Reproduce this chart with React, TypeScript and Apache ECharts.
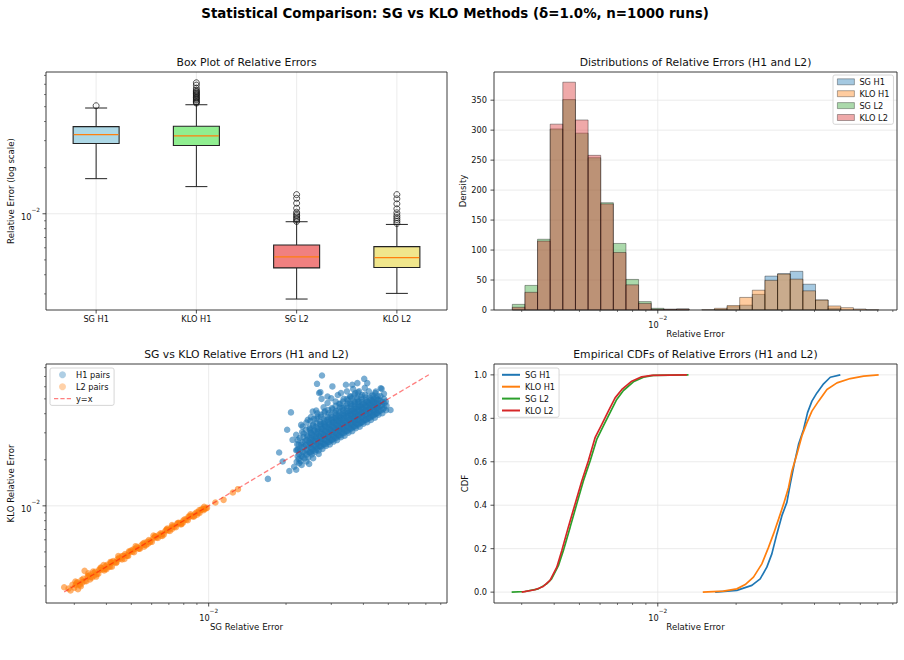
import React, { useEffect, useRef } from 'react';
import * as echarts from 'echarts';

const FONT = 'DejaVu Sans';
const TEXT = '#111111';
const TICK = '#222222';
const GRID_LINE = '#e6e6e6';
const SERIES_COLORS = ['#1f77b4', '#ff7f0e', '#2ca02c', '#d62728'];

// ---------- Box plot of relative errors ----------
const BOX_LABELS = ['SG H1', 'KLO H1', 'SG L2', 'KLO L2'];
// [lower whisker, Q1, median, Q3, upper whisker]
const BOX_STATS = [
  [0.01695, 0.02873, 0.03287, 0.03706, 0.04901],
  [0.01504, 0.02789, 0.03224, 0.03728, 0.05148],
  [0.002777, 0.004433, 0.005227, 0.006253, 0.008873],
  [0.003023, 0.00446, 0.00518, 0.006105, 0.00852],
];
const BOX_OUTLIERS = [
  [0.0507],
  [0.0716, 0.0691, 0.0661, 0.0641, 0.0630, 0.0622, 0.0611, 0.0604, 0.0595, 0.0586, 0.0575, 0.0569, 0.056, 0.0552, 0.054, 0.0535, 0.0528],
  [0.01334, 0.01263, 0.01172, 0.01087, 0.01024, 0.00997, 0.00975, 0.00953, 0.00932, 0.00912, 0.00891],
  [0.01334, 0.01252, 0.01161, 0.01078, 0.01015, 0.00975, 0.00946, 0.00918, 0.00891, 0.00865],
];
const BOX_FILLS = ['#add8e6', '#90ee90', '#f08080', '#f0e68c'];

// ---------- Histograms (density, shared log-spaced bins) ----------
const HIST_NAMES = ['SG H1', 'KLO H1', 'SG L2', 'KLO L2'];
const HIST_EDGES = [
  0.002761, 0.003087, 0.003452, 0.00386, 0.004316, 0.004827, 0.005398, 0.006035, 0.006749, 0.007546,
  0.008438, 0.009438, 0.010556, 0.011803, 0.013199, 0.014758, 0.016504, 0.018455, 0.020637, 0.023077,
  0.025805, 0.028855, 0.032274, 0.036086, 0.040365, 0.045134, 0.050466, 0.056441, 0.06311, 0.070582,
];
const HIST_SG_H1 = [0, 0, 0, 0, 0, 0, 0, 0, 0, 0, 0, 0, 0, 0, 0, 0, 1, 5.5, 8, 26, 56.5, 60.5, 64.5, 43, 16.7, 3, 0, 0, 0];
const HIST_KLO_H1 = [0, 0, 0, 0, 0, 0, 0, 0, 0, 0, 0, 0, 0, 0, 0, 0.6, 2.8, 7.5, 21, 33, 49.5, 60, 51.5, 32, 16.7, 6.7, 3.9, 1.7, 0.5];
const HIST_SG_L2 = [9.4, 41, 118, 302, 351, 295, 254, 179, 111, 51, 14, 2.8, 1.2, 1.7, 0, 0, 0, 0, 0, 0, 0, 0, 0, 0, 0, 0, 0, 0, 0];
const HIST_KLO_L2 = [4.5, 29.5, 115, 310, 380, 317, 258, 177, 96, 42, 11, 1.1, 1.2, 1.7, 0, 0, 0, 0, 0, 0, 0, 0, 0, 0, 0, 0, 0, 0, 0];
const HIST_VALUES = [HIST_SG_H1, HIST_KLO_H1, HIST_SG_L2, HIST_KLO_L2];
const HIST_Y_TICKS = [0, 50, 100, 150, 200, 250, 300, 350];

// ---------- Scatter: SG vs KLO per run ----------
const H1_PAIRS = [
  [0.017, 0.015], [0.0188, 0.0223], [0.0194, 0.0195], [0.0202, 0.0314], [0.0209, 0.0408], [0.0206, 0.0169],
  [0.0219, 0.0172], [0.0246, 0.0188], [0.0276, 0.0711], [0.0264, 0.0627], [0.0272, 0.0553], [0.0403, 0.0676],
  [0.0414, 0.0634], [0.0471, 0.0582], [0.051, 0.0423], [0.0481, 0.054], [0.0467, 0.0587], [0.0303, 0.0603],
  [0.0327, 0.0546], [0.0342, 0.0618], [0.0362, 0.0618], [0.0379, 0.0634], [0.0269, 0.0546], [0.029, 0.0518],
  [0.0447, 0.0558], [0.0243, 0.0365], [0.0229, 0.0338], [0.0219, 0.0291], [0.0212, 0.027], [0.0221, 0.0232],
  [0.0254, 0.0413],
  [0.029, 0.047], [0.03, 0.0505], [0.0312, 0.048], [0.0318, 0.053], [0.0335, 0.05], [0.0345, 0.056],
  [0.0355, 0.052], [0.0365, 0.058], [0.0372, 0.0545], [0.0385, 0.056], [0.0395, 0.053], [0.0405, 0.059],
  [0.042, 0.056], [0.0432, 0.0525], [0.0445, 0.0545], [0.0455, 0.052], [0.028, 0.044], [0.0262, 0.042],
  [0.025, 0.038], [0.024, 0.035], [0.0232, 0.033], [0.0275, 0.05], [0.0325, 0.0465], [0.0348, 0.049],
  [0.036, 0.0505], [0.0378, 0.051], [0.041, 0.051], [0.044, 0.05],
  [0.023, 0.0185], [0.024, 0.0195], [0.0255, 0.0205], [0.0268, 0.0218], [0.0215, 0.018], [0.0225, 0.019],
  [0.022, 0.0194], [0.0222, 0.0211], [0.0219, 0.0231], [0.0221, 0.0253],
  [0.0228, 0.0196], [0.023, 0.0212], [0.0227, 0.023], [0.0229, 0.0251], [0.0226, 0.0278],
  [0.0236, 0.0205], [0.0238, 0.0224], [0.0235, 0.0243], [0.0237, 0.0264], [0.0234, 0.0297],
  [0.0244, 0.0207], [0.0246, 0.0224], [0.0243, 0.0244], [0.0245, 0.0264], [0.0242, 0.0285], [0.0247, 0.0317],
  [0.0252, 0.0217], [0.0254, 0.0234], [0.0251, 0.0255], [0.0253, 0.0275], [0.025, 0.03], [0.0255, 0.034],
  [0.026, 0.0226], [0.0262, 0.0244], [0.0259, 0.0265], [0.0261, 0.0286], [0.0258, 0.0312], [0.0263, 0.0369],
  [0.0268, 0.023], [0.027, 0.0247], [0.0267, 0.0265], [0.0269, 0.0287], [0.0266, 0.0311], [0.0271, 0.034], [0.0265, 0.0402],
  [0.0277, 0.0235], [0.0279, 0.0255], [0.0276, 0.0274], [0.0278, 0.0296], [0.0275, 0.0319], [0.028, 0.0346], [0.0274, 0.0382],
  [0.0286, 0.0246], [0.0288, 0.0266], [0.0285, 0.0286], [0.0287, 0.0309], [0.0284, 0.0335], [0.0289, 0.0366], [0.0283, 0.0415],
  [0.0296, 0.0252], [0.0298, 0.0269], [0.0295, 0.029], [0.0297, 0.0314], [0.0294, 0.0337], [0.0299, 0.0367], [0.0293, 0.0403],
  [0.0306, 0.0263], [0.0308, 0.0282], [0.0305, 0.0303], [0.0307, 0.0324], [0.0304, 0.0349], [0.0309, 0.0376], [0.0303, 0.0428],
  [0.0316, 0.0269], [0.0318, 0.0288], [0.0315, 0.031], [0.0317, 0.0332], [0.0314, 0.0357], [0.0319, 0.0386], [0.0313, 0.0417],
  [0.0327, 0.0281], [0.0329, 0.0301], [0.0326, 0.032], [0.0328, 0.0343], [0.0325, 0.0366], [0.033, 0.0396], [0.0324, 0.0441],
  [0.0338, 0.0287], [0.034, 0.0308], [0.0337, 0.0328], [0.0339, 0.0352], [0.0336, 0.0375], [0.0341, 0.0406], [0.0335, 0.0439],
  [0.035, 0.0301], [0.0352, 0.0322], [0.0349, 0.0343], [0.0351, 0.0364], [0.0348, 0.0389], [0.0353, 0.0417], [0.0347, 0.0466],
  [0.0362, 0.0308], [0.0364, 0.0329], [0.0361, 0.0351], [0.0363, 0.0373], [0.036, 0.0398], [0.0365, 0.0427], [0.0359, 0.0463],
  [0.0374, 0.0322], [0.0376, 0.0344], [0.0373, 0.0363], [0.0375, 0.0385], [0.0372, 0.0411], [0.0377, 0.0441], [0.0371, 0.0475],
  [0.0387, 0.0329], [0.0389, 0.0348], [0.0386, 0.0372], [0.0388, 0.0395], [0.0385, 0.0422], [0.039, 0.0449], [0.0384, 0.048],
  [0.04, 0.0344], [0.0402, 0.0364], [0.0399, 0.0388], [0.0401, 0.0412], [0.0398, 0.0436], [0.0403, 0.0468],
  [0.0414, 0.0352], [0.0416, 0.0373], [0.0413, 0.0397], [0.0415, 0.0422], [0.0412, 0.0447], [0.0417, 0.0476],
  [0.0428, 0.0364], [0.043, 0.0385], [0.0427, 0.0411], [0.0429, 0.0437], [0.0426, 0.0462], [0.0431, 0.0488],
  [0.0443, 0.0377], [0.0445, 0.0399], [0.0442, 0.0421], [0.0444, 0.0447], [0.0441, 0.0474],
  [0.0458, 0.0394], [0.046, 0.0417], [0.0457, 0.044], [0.0459, 0.0467], [0.0456, 0.0495],
  [0.0474, 0.0403], [0.0476, 0.0427], [0.0473, 0.0455], [0.0475, 0.0479],
  [0.049, 0.0421], [0.0492, 0.0451], [0.0489, 0.048],
  [0.0224, 0.0202], [0.0225, 0.0217], [0.0223, 0.0233], [0.0224, 0.0251], [0.0222, 0.0269],
  [0.0232, 0.0209], [0.0233, 0.0225], [0.0231, 0.0241], [0.0232, 0.026], [0.0234, 0.0281], [0.0231, 0.0304],
  [0.024, 0.0216], [0.0241, 0.0233], [0.0239, 0.025], [0.024, 0.0269], [0.0242, 0.029], [0.0239, 0.0314],
  [0.0248, 0.0223], [0.0249, 0.0241], [0.0247, 0.0258], [0.0248, 0.0278], [0.025, 0.03], [0.0247, 0.0325], [0.0249, 0.036],
  [0.0256, 0.023], [0.0257, 0.0248], [0.0255, 0.0266], [0.0256, 0.0287], [0.0258, 0.031], [0.0255, 0.0335], [0.0257, 0.0371],
  [0.0264, 0.0238], [0.0265, 0.0256], [0.0263, 0.0275], [0.0264, 0.0296], [0.0266, 0.0319], [0.0263, 0.0346], [0.0265, 0.0383],
  [0.0272, 0.0245], [0.0273, 0.0264], [0.0271, 0.0283], [0.0272, 0.0305], [0.0274, 0.0329], [0.0271, 0.0356], [0.0273, 0.0394],
  [0.0281, 0.0253], [0.0282, 0.0273], [0.028, 0.0292], [0.0281, 0.0315], [0.0283, 0.034], [0.028, 0.0368], [0.0282, 0.0407],
  [0.0291, 0.0262], [0.0292, 0.0282], [0.029, 0.0303], [0.0291, 0.0326], [0.0293, 0.0352], [0.029, 0.0381], [0.0292, 0.0422],
  [0.0301, 0.0271], [0.0302, 0.0292], [0.03, 0.0313], [0.0301, 0.0337], [0.0303, 0.0364], [0.03, 0.0394], [0.0302, 0.0436],
  [0.0311, 0.028], [0.0312, 0.0302], [0.031, 0.0323], [0.0311, 0.0348], [0.0313, 0.0376], [0.031, 0.0407], [0.0312, 0.0451],
  [0.0321, 0.0289], [0.0322, 0.0311], [0.032, 0.0334], [0.0321, 0.036], [0.0323, 0.0388], [0.032, 0.0421], [0.0322, 0.0465],
  [0.0332, 0.0299], [0.0333, 0.0322], [0.0331, 0.0345], [0.0332, 0.0372], [0.0334, 0.0402], [0.0331, 0.0435], [0.0333, 0.0481],
  [0.0344, 0.031], [0.0345, 0.0334], [0.0343, 0.0358], [0.0344, 0.0385], [0.0346, 0.0416], [0.0343, 0.0451], [0.0345, 0.0499],
  [0.0356, 0.032], [0.0357, 0.0345], [0.0355, 0.037], [0.0356, 0.0399], [0.0358, 0.0431], [0.0355, 0.0466], [0.0357, 0.0516],
  [0.0368, 0.0331], [0.0369, 0.0357], [0.0367, 0.0383], [0.0368, 0.0412], [0.037, 0.0445], [0.0367, 0.0482], [0.0369, 0.0534],
  [0.038, 0.0342], [0.0381, 0.0369], [0.0379, 0.0395], [0.038, 0.0426], [0.0382, 0.046], [0.0379, 0.0498], [0.0381, 0.0551],
  [0.0393, 0.0354], [0.0394, 0.0381], [0.0392, 0.0409], [0.0393, 0.044], [0.0395, 0.0476], [0.0392, 0.0515],
  [0.0407, 0.0366], [0.0408, 0.0395], [0.0406, 0.0423], [0.0407, 0.0456], [0.0409, 0.0492], [0.0406, 0.0533],
  [0.0421, 0.0379], [0.0422, 0.0408], [0.042, 0.0438], [0.0421, 0.0472], [0.0423, 0.0509],
  [0.0435, 0.0392], [0.0436, 0.0422], [0.0434, 0.0452], [0.0435, 0.0487], [0.0437, 0.0526],
  [0.045, 0.0405], [0.0451, 0.0437], [0.0449, 0.0468], [0.045, 0.0504],
  [0.0466, 0.0419], [0.0467, 0.0452], [0.0465, 0.0485], [0.0466, 0.0522],
  [0.0482, 0.0434], [0.0483, 0.0468], [0.0481, 0.0501],
  [0.025, 0.0223], [0.0251, 0.0238], [0.0249, 0.0253], [0.025, 0.027], [0.0252, 0.029], [0.0249, 0.0313],
  [0.0262, 0.0233], [0.0263, 0.0249], [0.0261, 0.0265], [0.0262, 0.0283], [0.0264, 0.0304], [0.0261, 0.0328],
  [0.0274, 0.0244], [0.0275, 0.026], [0.0273, 0.0277], [0.0274, 0.0296], [0.0276, 0.0318], [0.0273, 0.0343],
  [0.0284, 0.0253], [0.0285, 0.027], [0.0283, 0.0287], [0.0284, 0.0307], [0.0286, 0.0329], [0.0283, 0.0355],
  [0.0294, 0.0262], [0.0295, 0.0279], [0.0293, 0.0297], [0.0294, 0.0318], [0.0296, 0.0341], [0.0293, 0.0368],
  [0.0304, 0.0271], [0.0305, 0.0289], [0.0303, 0.0307], [0.0304, 0.0328], [0.0306, 0.0353], [0.0303, 0.038],
  [0.0314, 0.0279], [0.0315, 0.0298], [0.0313, 0.0317], [0.0314, 0.0339], [0.0316, 0.0364], [0.0313, 0.0393],
  [0.0324, 0.0288], [0.0325, 0.0308], [0.0323, 0.0327], [0.0324, 0.035], [0.0326, 0.0376], [0.0323, 0.0405],
  [0.0335, 0.0298], [0.0336, 0.0318], [0.0334, 0.0338], [0.0335, 0.0362], [0.0337, 0.0389], [0.0334, 0.0419],
  [0.0347, 0.0309], [0.0348, 0.033], [0.0346, 0.035], [0.0347, 0.0375], [0.0349, 0.0403], [0.0346, 0.0434],
  [0.0359, 0.032], [0.036, 0.0341], [0.0358, 0.0363], [0.0359, 0.0388], [0.0361, 0.0416], [0.0358, 0.0449],
  [0.0371, 0.033], [0.0372, 0.0352], [0.037, 0.0375], [0.0371, 0.0401], [0.0373, 0.043], [0.037, 0.0464],
  [0.0383, 0.0341], [0.0384, 0.0364], [0.0382, 0.0387], [0.0383, 0.0414], [0.0385, 0.0444], [0.0382, 0.0479],
  [0.0396, 0.0352], [0.0397, 0.0376], [0.0395, 0.04], [0.0396, 0.0428], [0.0398, 0.0459], [0.0395, 0.0495],
  [0.041, 0.0365], [0.0411, 0.039], [0.0409, 0.0414], [0.041, 0.0443], [0.0412, 0.0476],
  [0.0424, 0.0377], [0.0425, 0.0403], [0.0423, 0.0428], [0.0424, 0.0458], [0.0426, 0.0492],
  [0.0438, 0.039], [0.0439, 0.0416], [0.0437, 0.0442], [0.0438, 0.0473],
  [0.0453, 0.0403], [0.0454, 0.043], [0.0452, 0.0458], [0.0453, 0.0489],
];
const L2_PAIRS = [
  [0.00274, 0.00294], [0.00303, 0.0032], [0.00329, 0.00376],
  [0.003, 0.00292], [0.00308, 0.00316], [0.00316, 0.00305], [0.00325, 0.00334], [0.00334, 0.00322],
  [0.00343, 0.00352], [0.00352, 0.0034], [0.00362, 0.00371], [0.00372, 0.0036], [0.00382, 0.00393],
  [0.00392, 0.00378], [0.00403, 0.00412], [0.00414, 0.00402], [0.00425, 0.00436], [0.00436, 0.00423],
  [0.00448, 0.00458], [0.0046, 0.00447], [0.00473, 0.00484], [0.00486, 0.0047], [0.00499, 0.0051],
  [0.00512, 0.00497], [0.00526, 0.00537], [0.0054, 0.00524], [0.00555, 0.00566], [0.0057, 0.00553],
  [0.00585, 0.00597], [0.00601, 0.00582], [0.00618, 0.0063], [0.00634, 0.00616], [0.00651, 0.00662],
  [0.00669, 0.0065], [0.00687, 0.00698], [0.00706, 0.00686], [0.00725, 0.00736], [0.00745, 0.00724],
  [0.00765, 0.00776], [0.00785, 0.00763], [0.00807, 0.00818], [0.00829, 0.00806], [0.00851, 0.00862],
  [0.00874, 0.0085], [0.00898, 0.00908], [0.00922, 0.009], [0.00947, 0.00955], [0.00973, 0.00962],
  [0.00345, 0.0033], [0.0038, 0.00395], [0.004, 0.00385], [0.00445, 0.0047], [0.0047, 0.0045],
  [0.0052, 0.00545], [0.0056, 0.0054], [0.0061, 0.0064], [0.0066, 0.00635], [0.0072, 0.0075],
  [0.0078, 0.00755], [0.0085, 0.0088], [0.009, 0.00875], [0.0096, 0.00985], [0.00985, 0.0097],
  [0.0031, 0.00285], [0.00355, 0.00372], [0.00415, 0.0043], [0.0049, 0.00505], [0.0058, 0.00565],
  [0.0069, 0.0071],
  [0.00304, 0.00304], [0.00312, 0.00306], [0.0032, 0.00327], [0.00329, 0.00322], [0.00338, 0.00346],
  [0.00347, 0.00342], [0.00357, 0.00364], [0.00367, 0.00358], [0.00377, 0.00381], [0.00387, 0.00384],
  [0.00397, 0.00404], [0.00408, 0.00399], [0.00419, 0.00426], [0.0043, 0.00428], [0.00442, 0.00447],
  [0.00454, 0.00452], [0.00466, 0.00471], [0.00479, 0.00475], [0.00492, 0.00498], [0.00505, 0.00502],
  [0.00519, 0.00525], [0.00533, 0.00528], [0.00547, 0.00552], [0.00562, 0.00558], [0.00577, 0.00582],
  [0.00593, 0.00589], [0.00609, 0.00614], [0.00626, 0.00621], [0.00642, 0.00648], [0.0066, 0.00656],
  [0.00678, 0.00684], [0.00696, 0.00691], [0.00715, 0.0072], [0.00735, 0.0073], [0.00755, 0.00761],
  [0.00775, 0.0077], [0.00796, 0.00802], [0.00818, 0.00812], [0.0084, 0.00846], [0.00862, 0.00857],
  [0.00886, 0.00891], [0.0091, 0.00905], [0.00934, 0.00941], [0.0096, 0.00953],
  [0.00306, 0.00312], [0.00322, 0.00316], [0.0034, 0.00347], [0.00358, 0.00351], [0.00375, 0.00383],
  [0.00395, 0.00387], [0.00416, 0.00424], [0.00438, 0.00429], [0.0046, 0.00469], [0.00482, 0.00472],
  [0.00508, 0.00518], [0.00535, 0.00524], [0.00562, 0.00573], [0.0059, 0.00578], [0.0062, 0.00632],
  [0.00652, 0.00639], [0.00685, 0.00699], [0.0072, 0.00706], [0.00757, 0.00772], [0.00795, 0.00779],
  [0.00835, 0.00852], [0.00877, 0.00859], [0.0092, 0.00938], [0.00955, 0.00936],
  [0.00318, 0.00298], [0.0034, 0.00362], [0.00365, 0.00345], [0.0039, 0.0041], [0.0042, 0.004],
  [0.00295, 0.00305], [0.00285, 0.00288], [0.0029, 0.0028],
  [0.01062, 0.01051], [0.01143, 0.01094], [0.01242, 0.01222], [0.013, 0.01285],
];
const IDENTITY_LINE = [[0.00274, 0.00274], [0.0719, 0.0719]];

// ---------- Empirical CDFs ----------
const CDF_SG_H1 = [
  [0.01661, 0], [0.02012, 0.008], [0.02298, 0.031], [0.02474, 0.061], [0.02624, 0.115], [0.02743, 0.176],
  [0.02868, 0.268], [0.02998, 0.352], [0.03133, 0.413], [0.03227, 0.497], [0.03343, 0.589], [0.03474, 0.68],
  [0.03631, 0.749], [0.03762, 0.826], [0.0391, 0.879], [0.04087, 0.917], [0.04335, 0.959], [0.04599, 0.989],
  [0.05026, 1],
];
const CDF_KLO_H1 = [
  [0.01489, 0], [0.01788, 0.005], [0.02012, 0.015], [0.02167, 0.035], [0.02332, 0.069], [0.02511, 0.13],
  [0.02663, 0.206], [0.02784, 0.268], [0.02911, 0.336], [0.03042, 0.405], [0.0318, 0.482], [0.03276, 0.558],
  [0.03423, 0.635], [0.03578, 0.719], [0.03741, 0.78], [0.0391, 0.833], [0.04147, 0.879], [0.04466, 0.933],
  [0.04879, 0.963], [0.05491, 0.983], [0.06178, 0.994], [0.07057, 1],
];
const CDF_SG_L2 = [
  [0.002745, 0], [0.003088, 0.003], [0.003475, 0.015], [0.003741, 0.038], [0.003908, 0.061], [0.00415, 0.122],
  [0.004335, 0.191], [0.004603, 0.298], [0.00488, 0.405], [0.005176, 0.512], [0.005495, 0.604], [0.005826, 0.703],
  [0.00618, 0.765], [0.006556, 0.826], [0.006955, 0.887], [0.007379, 0.928], [0.008058, 0.968], [0.00881, 0.989],
  [0.009623, 0.998], [0.013122, 1],
];
const CDF_KLO_L2 = [
  [0.003, 0], [0.003373, 0.011], [0.003631, 0.026], [0.003855, 0.054], [0.004093, 0.115], [0.004276, 0.191],
  [0.004529, 0.298], [0.004808, 0.405], [0.005105, 0.512], [0.005408, 0.604], [0.005741, 0.711], [0.006095, 0.772],
  [0.006457, 0.833], [0.006855, 0.894], [0.007278, 0.933], [0.007943, 0.971], [0.00867, 0.991], [0.009484, 0.998],
  [0.012942, 1],
];
const CDF_VALUES = [CDF_SG_H1, CDF_KLO_H1, CDF_SG_L2, CDF_KLO_L2];
const CDF_Y_TICKS = [0, 0.2, 0.4, 0.6, 0.8, 1.0];

// ---------- Log axis ticks ----------
const LOG_MAJOR = [0.01];
const LOG_MINOR = [0.003, 0.004, 0.005, 0.006, 0.007, 0.008, 0.009, 0.02, 0.03, 0.04, 0.05, 0.06, 0.07, 0.08];

// Panel rectangles: box plot, histogram, scatter, CDF
const GRIDS = [
  { left: 46, top: 72, width: 401, height: 238 },
  { left: 494, top: 72, width: 403, height: 238 },
  { left: 46, top: 364, width: 401, height: 239 },
  { left: 494, top: 364, width: 403, height: 239 },
];
const PANEL_TITLES = [
  'Box Plot of Relative Errors',
  'Distributions of Relative Errors (H1 and L2)',
  'SG vs KLO Relative Errors (H1 and L2)',
  'Empirical CDFs of Relative Errors (H1 and L2)',
];
const SUPTITLE = 'Statistical Comparison: SG vs KLO Methods (\u03b4=1.0%, n=1000 runs)';

const BOX_HALF = 23;
const CAP_HALF = 11;
const POINT_SIZE = 6.5;
// dashed-line legend handle
const DASH_ICON = 'path://M0,0h5v1.3h-5z M7.5,0h5v1.3h-5z M15,0h5v1.3h-5z';

const rgba = (hex: string, a: number) => {
  const n = parseInt(hex.slice(1), 16);
  return `rgba(${(n >> 16) & 255},${(n >> 8) & 255},${n & 255},${a})`;
};

const tickFont = { fontSize: 8.2, fontFamily: FONT, color: TEXT };
const nameFont = { fontSize: 8.6, fontFamily: FONT, color: TEXT };

const decadeLabel = (margin: number) => ({
  margin,
  formatter: (v: number) => (Math.abs(Math.log10(v) + 2) < 1e-6 ? '{b|10}{s|\u22122}' : ''),
  rich: {
    b: { fontSize: 8.2, fontFamily: FONT, color: TEXT, lineHeight: 14, verticalAlign: 'bottom' },
    s: { fontSize: 5.8, fontFamily: FONT, color: TEXT, lineHeight: 5, verticalAlign: 'top' },
  },
});

const hidden = { axisLine: { show: false }, axisTick: { show: false }, splitLine: { show: false } };

const legendBase = {
  orient: 'vertical',
  selectedMode: false,
  padding: [2, 4, 2, 4],
  itemGap: 2.3,
  backgroundColor: 'rgba(255,255,255,0.8)',
  borderColor: '#cccccc',
  borderWidth: 0.8,
  borderRadius: 2,
  textStyle: { fontSize: 8.2, fontFamily: FONT, color: TEXT, lineHeight: 9.6 },
};

function buildOption() {
  const boxData = BOX_STATS.map((s, i) => [i, ...s]);
  const outlierData: number[][] = [];
  BOX_OUTLIERS.forEach((arr, i) => arr.forEach((v) => outlierData.push([i, v])));

  const histSeries = HIST_VALUES.map((vals, s) => ({
    type: 'custom',
    name: HIST_NAMES[s],
    xAxisIndex: 1,
    yAxisIndex: 1,
    encode: { x: [0, 1], y: 2 },
    data: vals
      .map((d, k) => [HIST_EDGES[k], HIST_EDGES[k + 1], d])
      .filter((r) => r[2] > 0),
    renderItem: (_p: any, api: any) => {
      const a = api.coord([api.value(0), api.value(2)]);
      const b = api.coord([api.value(1), 0]);
      return {
        type: 'rect',
        shape: { x: a[0], y: a[1], width: b[0] - a[0], height: b[1] - a[1] },
        style: { fill: rgba(SERIES_COLORS[s], 0.4), stroke: 'rgba(0,0,0,0.4)', lineWidth: 0.9 },
      };
    },
  }));

  const cdfSeries = CDF_VALUES.map((vals, s) => ({
    type: 'line',
    name: HIST_NAMES[s],
    xAxisIndex: 3,
    yAxisIndex: 3,
    data: vals,
    showSymbol: false,
    symbol: 'none',
    lineStyle: { color: SERIES_COLORS[s], width: 1.7 },
    itemStyle: { color: SERIES_COLORS[s] },
  }));

  return {
    animation: false,
    backgroundColor: '#ffffff',
    grid: GRIDS.map((g) => ({ ...g, containLabel: false })),
    xAxis: [
      {
        gridIndex: 0, type: 'category', data: BOX_LABELS, boundaryGap: true, ...hidden,
        axisLabel: { ...tickFont, margin: 5 },
      },
      {
        gridIndex: 1, type: 'log', min: 0.002348, max: 0.083, ...hidden, axisLabel: decadeLabel(4.5),
        name: 'Relative Error', nameLocation: 'middle', nameGap: 19, nameTextStyle: nameFont,
      },
      {
        gridIndex: 2, type: 'log', min: 0.002328, max: 0.0846, ...hidden, axisLabel: decadeLabel(4.5),
        name: 'SG Relative Error', nameLocation: 'middle', nameGap: 19, nameTextStyle: nameFont,
      },
      {
        gridIndex: 3, type: 'log', min: 0.002348, max: 0.083, ...hidden, axisLabel: decadeLabel(4.5),
        name: 'Relative Error', nameLocation: 'middle', nameGap: 19, nameTextStyle: nameFont,
      },
    ],
    yAxis: [
      {
        gridIndex: 0, type: 'log', min: 0.002355, max: 0.0842, ...hidden, axisLabel: decadeLabel(6),
        name: 'Relative Error (log scale)', nameLocation: 'middle', nameGap: 31, nameTextStyle: nameFont,
      },
      {
        gridIndex: 1, type: 'value', min: 0, max: 397, interval: 50, ...hidden,
        axisLabel: { ...tickFont, margin: 7, formatter: (v: number) => (v % 50 === 0 ? String(v) : '') },
        name: 'Density', nameLocation: 'middle', nameGap: 26, nameTextStyle: nameFont,
      },
      {
        gridIndex: 2, type: 'log', min: 0.002318, max: 0.0845, ...hidden, axisLabel: decadeLabel(6),
        name: 'KLO Relative Error', nameLocation: 'middle', nameGap: 31, nameTextStyle: nameFont,
      },
      {
        gridIndex: 3, type: 'value', min: -0.05, max: 1.05, splitNumber: 5, ...hidden,
        axisLabel: {
          ...tickFont, margin: 7,
          formatter: (v: number) => (Math.abs(v * 5 - Math.round(v * 5)) < 1e-6 ? v.toFixed(1) : ''),
        },
        name: 'CDF', nameLocation: 'middle', nameGap: 25, nameTextStyle: nameFont,
      },
    ],
    legend: [
      {
        ...legendBase, left: 833, top: 75, itemWidth: 17, itemHeight: 6,
        data: HIST_NAMES.map((n, i) => ({
          name: n, icon: 'rect',
          itemStyle: { color: rgba(SERIES_COLORS[i], 0.4), borderColor: 'rgba(0,0,0,0.4)', borderWidth: 0.8 },
        })),
      },
      {
        ...legendBase, left: 498, top: 368, itemWidth: 18, itemHeight: 2,
        data: HIST_NAMES.map((n, i) => ({
          name: n, icon: 'rect', itemStyle: { color: SERIES_COLORS[i], borderWidth: 0 },
        })),
      },
      {
        ...legendBase, left: 50, top: 368, itemWidth: 17, itemHeight: 7,
        data: [
          { name: 'H1 pairs', icon: 'circle', itemStyle: { color: rgba(SERIES_COLORS[0], 0.6) } },
          { name: 'L2 pairs', icon: 'circle', itemStyle: { color: rgba(SERIES_COLORS[1], 0.6) } },
          { name: 'y=x', icon: DASH_ICON, itemStyle: { color: 'rgba(255,0,0,0.5)', borderWidth: 0 } },
        ],
      },
    ],
    series: [
      {
        type: 'custom',
        name: 'box',
        xAxisIndex: 0,
        yAxisIndex: 0,
        encode: { x: 0, y: [1, 2, 3, 4, 5] },
        data: boxData,
        renderItem: (_p: any, api: any) => {
          const i = api.value(0);
          const lo = api.coord([i, api.value(1)]);
          const q1 = api.coord([i, api.value(2)]);
          const md = api.coord([i, api.value(3)]);
          const q3 = api.coord([i, api.value(4)]);
          const hi = api.coord([i, api.value(5)]);
          const cx = md[0];
          const ln = (x1: number, y1: number, x2: number, y2: number, stroke: string, w: number) => ({
            type: 'line', shape: { x1, y1, x2, y2 }, style: { stroke, lineWidth: w },
          });
          return {
            type: 'group',
            children: [
              ln(cx, lo[1], cx, q1[1], '#222', 1),
              ln(cx, q3[1], cx, hi[1], '#222', 1),
              ln(cx - CAP_HALF, lo[1], cx + CAP_HALF, lo[1], '#222', 1),
              ln(cx - CAP_HALF, hi[1], cx + CAP_HALF, hi[1], '#222', 1),
              {
                type: 'rect',
                shape: { x: cx - BOX_HALF, y: q3[1], width: 2 * BOX_HALF, height: q1[1] - q3[1] },
                style: { fill: BOX_FILLS[i], stroke: '#222', lineWidth: 1.1 },
              },
              ln(cx - BOX_HALF + 0.6, md[1], cx + BOX_HALF - 0.6, md[1], '#ff7f0e', 1.2),
            ],
          };
        },
      },
      {
        type: 'scatter',
        name: 'outliers',
        xAxisIndex: 0,
        yAxisIndex: 0,
        data: outlierData,
        symbol: 'circle',
        symbolSize: 6,
        itemStyle: { color: 'rgba(0,0,0,0)', borderColor: '#111', borderWidth: 0.9 },
      },
      ...histSeries,
      {
        type: 'scatter',
        name: 'H1 pairs',
        xAxisIndex: 2,
        yAxisIndex: 2,
        data: H1_PAIRS,
        symbol: 'circle',
        symbolSize: POINT_SIZE,
        itemStyle: { color: SERIES_COLORS[0], opacity: 0.6 },
      },
      {
        type: 'scatter',
        name: 'L2 pairs',
        xAxisIndex: 2,
        yAxisIndex: 2,
        data: L2_PAIRS,
        symbol: 'circle',
        symbolSize: POINT_SIZE,
        itemStyle: { color: SERIES_COLORS[1], opacity: 0.6 },
      },
      {
        type: 'line',
        name: 'y=x',
        xAxisIndex: 2,
        yAxisIndex: 2,
        data: IDENTITY_LINE,
        showSymbol: false,
        symbol: 'none',
        lineStyle: { color: 'rgba(255,0,0,0.5)', width: 1.3, type: [5, 2.5] },
        itemStyle: { color: 'rgba(255,0,0,0.5)' },
        z: 3,
      },
      ...cdfSeries,
    ],
  };
}

function buildGraphics(chart: any) {
  const els: any[] = [];
  const X = (i: number, v: any) => chart.convertToPixel({ xAxisIndex: i }, v) as number;
  const Y = (i: number, v: any) => chart.convertToPixel({ yAxisIndex: i }, v) as number;
  const line = (x1: number, y1: number, x2: number, y2: number, stroke: string, lw: number, z: number) => ({
    type: 'line', silent: true, z, shape: { x1, y1, x2, y2 }, style: { stroke, lineWidth: lw },
  });

  GRIDS.forEach((g, i) => {
    const l = g.left;
    const r = g.left + g.width;
    const t = g.top;
    const b = g.top + g.height;
    const vx: any[] = i === 0 ? BOX_LABELS : LOG_MAJOR;
    const hy: number[] = i === 1 ? HIST_Y_TICKS : i === 3 ? CDF_Y_TICKS : LOG_MAJOR;

    vx.forEach((v) => {
      const x = X(i, v);
      els.push(line(x, t, x, b, GRID_LINE, 0.8, 1));
      els.push(line(x, b, x, b + 3.5, TICK, 0.8, 60));
    });
    hy.forEach((v) => {
      const y = Y(i, v);
      els.push(line(l, y, r, y, GRID_LINE, 0.8, 1));
      els.push(line(l - 3.5, y, l, y, TICK, 0.8, 60));
    });
    if (i !== 0) {
      LOG_MINOR.forEach((v) => {
        const x = X(i, v);
        els.push(line(x, b, x, b + 2, TICK, 0.6, 60));
      });
    }
    if (i === 0 || i === 2) {
      LOG_MINOR.forEach((v) => {
        const y = Y(i, v);
        els.push(line(l - 2, y, l, y, TICK, 0.6, 60));
      });
    }
    els.push({
      type: 'rect', silent: true, z: 60,
      shape: { x: l, y: t, width: g.width, height: g.height },
      style: { fill: 'rgba(0,0,0,0)', stroke: '#262626', lineWidth: 0.9 },
    });
    els.push({
      type: 'text', silent: true, z: 70,
      x: l + g.width / 2, y: t - 9.7,
      style: {
        text: PANEL_TITLES[i], fontSize: 10.8, fontFamily: FONT, fill: TEXT,
        textAlign: 'center', align: 'center', textVerticalAlign: 'middle', verticalAlign: 'middle',
      },
    });
  });

  els.push({
    type: 'text', silent: true, z: 70, x: 455, y: 13,
    style: {
      text: SUPTITLE, fontSize: 13.4, fontWeight: 'bold', fontFamily: FONT, fill: '#000',
      textAlign: 'center', align: 'center', textVerticalAlign: 'middle', verticalAlign: 'middle',
    },
  });
  return els;
}

export default function App() {
  const ref = useRef<HTMLDivElement>(null);
  useEffect(() => {
    if (!ref.current) return;
    const chart = echarts.init(ref.current, null, { renderer: 'svg' });
    chart.setOption(buildOption() as any);
    chart.setOption({ graphic: buildGraphics(chart) } as any);
    return () => chart.dispose();
  }, []);
  return (
    <div
      ref={ref}
      style={{ position: 'absolute', left: 0, top: 0, width: 904, height: 660, background: '#fff' }}
    />
  );
}
